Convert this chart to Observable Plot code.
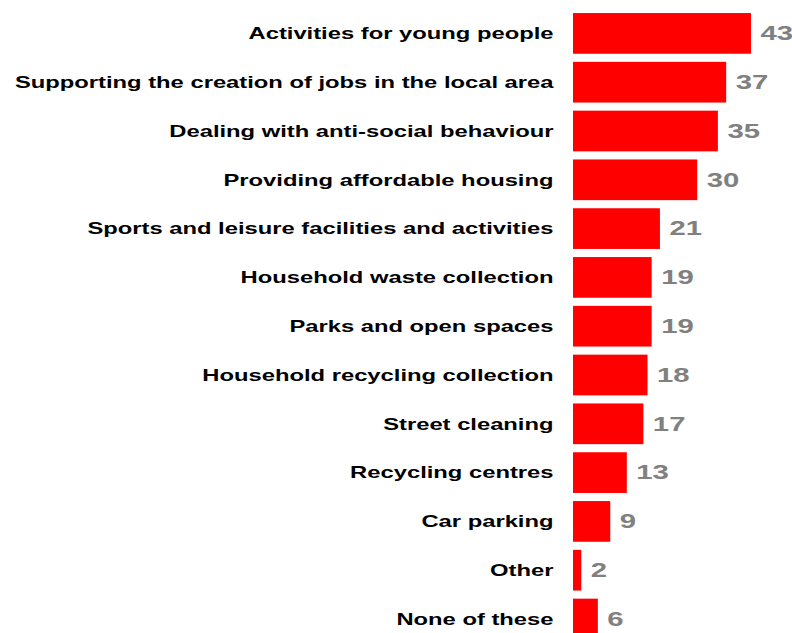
<!DOCTYPE html>
<html>
<head>
<meta charset="utf-8">
<script src="https://cdn.jsdelivr.net/npm/d3@7"></script>
<script src="https://cdn.jsdelivr.net/npm/@observablehq/plot@0.6"></script>
<style>
  html, body { margin: 0; padding: 0; background: #fff; overflow: hidden; }
</style>
</head>
<body>
<div id="chart"></div>
<script>
const categories = [
  "Activities for young people",
  "Supporting the creation of jobs in the local area",
  "Dealing with anti-social behaviour",
  "Providing affordable housing",
  "Sports and leisure facilities and activities",
  "Household waste collection",
  "Parks and open spaces",
  "Household recycling collection",
  "Street cleaning",
  "Recycling centres",
  "Car parking",
  "Other",
  "None of these"
];
const values = [43, 37, 35, 30, 21, 19, 19, 18, 17, 13, 9, 2, 6];

const data = categories.map((c, i) => ({category: c, value: values[i]}));

const plot = Plot.plot({
  width: 792,
  height: 633,
  marginLeft: 573,
  marginRight: 41,
  marginTop: 0,
  marginBottom: 0,
  style: {fontFamily: "'Liberation Sans', Arial, sans-serif", background: "#fff"},
  x: {domain: [0, 43], range: [573, 751], axis: null},
  y: {domain: categories, range: [9, 643.4], paddingInner: 0.166, paddingOuter: 0.083, align: 0.5, round: false, axis: null},
  marks: [
    Plot.barX(data, {x: "value", y: "category", fill: "#ff0000"}),
    Plot.text(data, {x: () => 0, y: "category", text: "category", textAnchor: "end", dx: -20, fontSize: 16.5, fontWeight: "bold", fill: "#000"}),
    Plot.text(data, {x: "value", y: "category", text: d => String(d.value), textAnchor: "start", dx: 9, fontSize: 19.5, fontWeight: "bold", fill: "#808080"})
  ]
});

document.getElementById("chart").appendChild(plot);

// The reference text is horizontally stretched; widen glyphs to match.
const groups = plot.querySelectorAll('g[aria-label="text"]');
const factors = [1.44, 1.5];
groups.forEach((g, gi) => {
  g.querySelectorAll("text").forEach(t => {
    const len = t.getComputedTextLength();
    t.setAttribute("textLength", (len * factors[gi]).toFixed(1));
    t.setAttribute("lengthAdjust", "spacingAndGlyphs");
  });
});
</script>
</body>
</html>
